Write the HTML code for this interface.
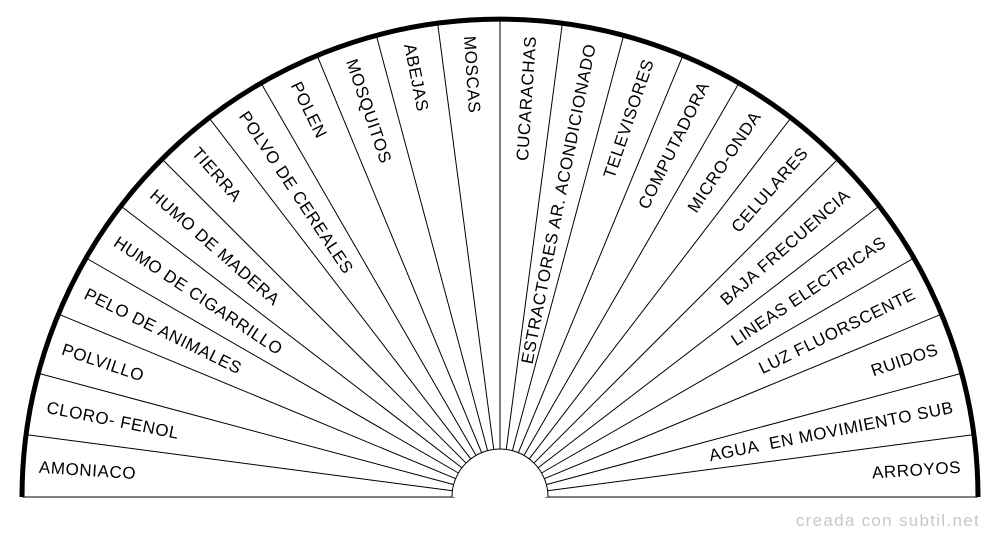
<!DOCTYPE html>
<html><head><meta charset="utf-8"><style>
html,body{margin:0;padding:0;background:#fff;}
svg{display:block;}
text{font-family:"Liberation Sans",sans-serif;font-size:17px;letter-spacing:0.6px;fill:#000;}
</style></head><body>
<svg width="1000" height="540" viewBox="0 0 1000 540" xmlns="http://www.w3.org/2000/svg">
<g stroke="#000" stroke-width="1">
<line x1="22" y1="497" x2="455" y2="497" transform="rotate(0 500 497)"/>
<line x1="22" y1="497" x2="455" y2="497" transform="rotate(7.5 500 497)"/>
<line x1="22" y1="497" x2="455" y2="497" transform="rotate(15 500 497)"/>
<line x1="22" y1="497" x2="455" y2="497" transform="rotate(22.5 500 497)"/>
<line x1="22" y1="497" x2="455" y2="497" transform="rotate(30 500 497)"/>
<line x1="22" y1="497" x2="455" y2="497" transform="rotate(37.5 500 497)"/>
<line x1="22" y1="497" x2="455" y2="497" transform="rotate(45 500 497)"/>
<line x1="22" y1="497" x2="455" y2="497" transform="rotate(52.5 500 497)"/>
<line x1="22" y1="497" x2="455" y2="497" transform="rotate(60 500 497)"/>
<line x1="22" y1="497" x2="455" y2="497" transform="rotate(67.5 500 497)"/>
<line x1="22" y1="497" x2="455" y2="497" transform="rotate(75 500 497)"/>
<line x1="22" y1="497" x2="455" y2="497" transform="rotate(82.5 500 497)"/>
<line x1="22" y1="497" x2="455" y2="497" transform="rotate(90 500 497)"/>
<line x1="22" y1="497" x2="455" y2="497" transform="rotate(97.5 500 497)"/>
<line x1="22" y1="497" x2="455" y2="497" transform="rotate(105 500 497)"/>
<line x1="22" y1="497" x2="455" y2="497" transform="rotate(112.5 500 497)"/>
<line x1="22" y1="497" x2="455" y2="497" transform="rotate(120 500 497)"/>
<line x1="22" y1="497" x2="455" y2="497" transform="rotate(127.5 500 497)"/>
<line x1="22" y1="497" x2="455" y2="497" transform="rotate(135 500 497)"/>
<line x1="22" y1="497" x2="455" y2="497" transform="rotate(142.5 500 497)"/>
<line x1="22" y1="497" x2="455" y2="497" transform="rotate(150 500 497)"/>
<line x1="22" y1="497" x2="455" y2="497" transform="rotate(157.5 500 497)"/>
<line x1="22" y1="497" x2="455" y2="497" transform="rotate(165 500 497)"/>
<line x1="22" y1="497" x2="455" y2="497" transform="rotate(172.5 500 497)"/>
<line x1="22" y1="497" x2="455" y2="497" transform="rotate(180 500 497)"/>
</g>
<path d="M452,497 A48,48 0 0 1 548,497" fill="#fff" stroke="#000" stroke-width="1"/>
<path d="M22,497 A478,478 0 0 1 978,497" fill="none" stroke="#000" stroke-width="5"/>

<g>
<text x="38" y="497" dy="0.35em" transform="rotate(3.75 500 497)">AMONIACO</text>
<text x="38" y="497" dy="0.35em" transform="rotate(11.25 500 497)">CLORO- FENOL</text>
<text x="38" y="497" dy="0.35em" transform="rotate(18.75 500 497)">POLVILLO</text>
<text x="38" y="497" dy="0.35em" transform="rotate(26.25 500 497)">PELO DE ANIMALES</text>
<text x="38" y="497" dy="0.35em" transform="rotate(33.75 500 497)">HUMO DE CIGARRILLO</text>
<text x="38" y="497" dy="0.35em" transform="rotate(41.25 500 497)">HUMO DE MADERA</text>
<text x="38" y="497" dy="0.35em" transform="rotate(48.75 500 497)">TIERRA</text>
<text x="38" y="497" dy="0.35em" transform="rotate(56.25 500 497)">POLVO DE CEREALES</text>
<text x="38" y="497" dy="0.35em" transform="rotate(63.75 500 497)">POLEN</text>
<text x="38" y="497" dy="0.35em" transform="rotate(71.25 500 497)">MOSQUITOS</text>
<text x="38" y="497" dy="0.35em" transform="rotate(78.75 500 497)">ABEJAS</text>
<text x="38" y="497" dy="0.35em" transform="rotate(86.25 500 497)">MOSCAS</text>

<text x="962" y="497" dy="0.35em" text-anchor="end" transform="rotate(-86.25 500 497)">CUCARACHAS</text>
<text x="962" y="497" dy="0.35em" text-anchor="end" transform="rotate(-78.75 500 497)">ESTRACTORES AR. ACONDICIONADO</text>
<text x="962" y="497" dy="0.35em" text-anchor="end" transform="rotate(-71.25 500 497)">TELEVISORES</text>
<text x="962" y="497" dy="0.35em" text-anchor="end" transform="rotate(-63.75 500 497)">COMPUTADORA</text>
<text x="962" y="497" dy="0.35em" text-anchor="end" transform="rotate(-56.25 500 497)">MICRO-ONDA</text>
<text x="962" y="497" dy="0.35em" text-anchor="end" transform="rotate(-48.75 500 497)">CELULARES</text>
<text x="962" y="497" dy="0.35em" text-anchor="end" transform="rotate(-41.25 500 497)">BAJA FRECUENCIA</text>
<text x="962" y="497" dy="0.35em" text-anchor="end" transform="rotate(-33.75 500 497)">LINEAS ELECTRICAS</text>
<text x="962" y="497" dy="0.35em" text-anchor="end" transform="rotate(-26.25 500 497)">LUZ FLUORSCENTE</text>
<text x="962" y="497" dy="0.35em" text-anchor="end" transform="rotate(-18.75 500 497)">RUIDOS</text>
<text x="962" y="497" dy="0.35em" text-anchor="end" transform="rotate(-11.25 500 497)">AGUA&#160; EN MOVIMIENTO SUB</text>
<text x="962" y="497" dy="0.35em" text-anchor="end" transform="rotate(-3.75 500 497)">ARROYOS</text>
</g>

<text x="980" y="526" text-anchor="end" style="fill:#c8c8c8;font-size:17px;letter-spacing:1.3px">creada con subtil.net</text>
</svg>
</body></html>
